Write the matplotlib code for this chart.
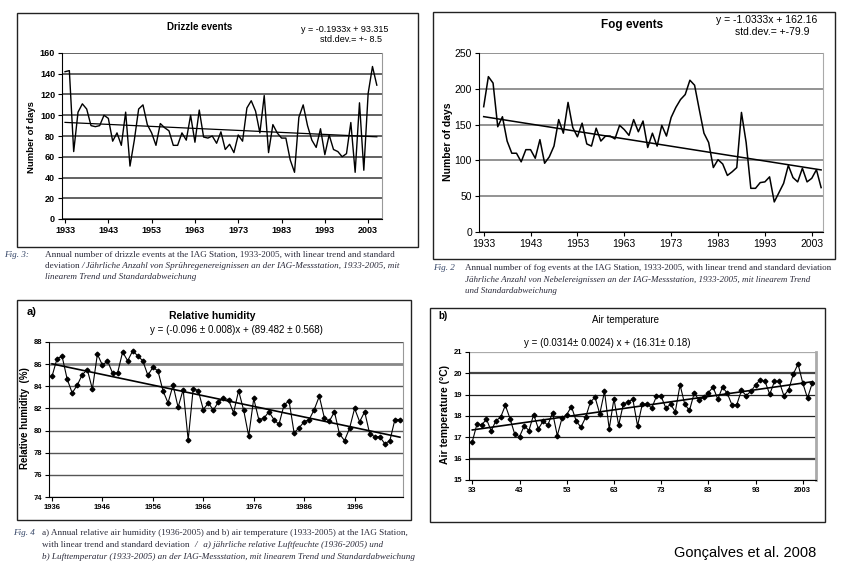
import numpy as np
import matplotlib.pyplot as plt
from matplotlib.patches import Rectangle

W, H = 841, 571

# ---- data ----
drizzle_years = np.arange(1933, 2006)
drizzle_days = [142, 143, 65, 103, 111, 106, 90, 89, 90, 100,
                97, 75, 83, 71, 103, 51, 76, 106, 110, 91,
                83, 71, 92, 88, 85, 71, 71, 83, 76, 100,
                74, 105, 79, 78, 80, 73, 84, 67, 72, 64,
                81, 75, 107, 114, 104, 83, 119, 64, 91, 83,
                78, 78, 57, 45, 98, 110, 90, 76, 69, 87,
                62, 81, 67, 65, 60, 63, 93, 45, 112, 47,
                121, 147, 129]
drizzle_fit = (-0.1933, 93.315)     # x = 1..73
drizzle_eq = ["y = -0.1933x + 93.315", "std.dev.= +- 8.5"]

fog_years = np.arange(1933, 2006)
fog_days = [175, 217, 208, 147, 161, 127, 110, 110, 98, 115,
            115, 103, 129, 96, 105, 120, 157, 138, 181, 146,
            133, 152, 123, 120, 145, 127, 134, 134, 130, 149,
            143, 135, 157, 140, 155, 118, 138, 120, 149, 134,
            160, 174, 185, 192, 212, 205, 171, 138, 125, 90,
            101, 95, 79, 84, 90, 167, 125, 61, 61, 69,
            70, 77, 42, 55, 68, 93, 76, 70, 89, 70,
            75, 87, 62]
fog_fit = (-1.0333, 162.16)         # x = 1..73
fog_eq = ["y = -1.0333x + 162.16", "std.dev.= +-79.9"]

rh_years = np.arange(1936, 2006)
rh_values = [84.9, 86.5, 86.7, 84.65, 83.4, 84.1, 85.05, 85.5, 83.75, 86.9,
             85.9, 86.3, 85.2, 85.2, 87.1, 86.3, 87.2, 86.75, 86.3, 85.0,
             85.7, 85.4, 83.6, 82.5, 84.1, 82.1, 83.7, 79.15, 83.8, 83.6,
             81.9, 82.5, 81.85, 82.6, 82.9, 82.8, 81.6, 83.6, 81.85, 79.5,
             82.9, 81.0, 81.1, 81.7, 81.0, 80.55, 82.3, 82.7, 79.8, 80.25,
             80.8, 81.0, 81.9, 83.1, 81.15, 80.85, 81.7, 79.7, 79.1, 80.2,
             82.0, 80.8, 81.7, 79.7, 79.45, 79.45, 78.8, 79.1, 81.0, 81.0]
rh_fit = (-0.096, 89.482)           # x = year - 1900
rh_eq = "y = (-0.096 \u00b1 0.008)x + (89.482 \u00b1 0.568)"

temp_years = np.arange(1933, 2006)
temp_values = [16.8, 17.63, 17.58, 17.85, 17.3, 17.78, 17.94, 18.5, 17.87, 17.14,
               17.03, 17.54, 17.32, 18.07, 17.4, 17.76, 17.57, 18.16, 17.08, 17.9,
               18.07, 18.44, 17.77, 17.47, 17.93, 18.65, 18.88, 18.1, 19.15, 17.4,
               18.8, 17.57, 18.57, 18.65, 18.79, 17.54, 18.55, 18.57, 18.37, 18.92,
               18.92, 18.37, 18.55, 18.2, 19.46, 18.55, 18.26, 19.07, 18.76, 18.88,
               19.1, 19.35, 18.79, 19.35, 19.07, 18.52, 18.52, 19.2, 18.96, 19.15,
               19.46, 19.7, 19.62, 19.02, 19.62, 19.62, 18.95, 19.23, 19.97, 20.44,
               19.54, 18.84, 19.54]
temp_fit = (0.0314, 16.31)          # x = year - 1900
temp_eq = "y = (0.0314\u00b1 0.0024) x + (16.31\u00b1 0.18)"
temp_ticklabels = ["33", "43", "53", "63", "73", "83", "93", "2003"]

plt.rcParams['font.family'] = ['Liberation Sans', 'DejaVu Sans']
SERIF = ['Liberation Serif', 'DejaVu Serif']
CAP = '#2a2a3a'
CAPSIZE = 6.6

fig = plt.figure(figsize=(W / 100, H / 100), dpi=100)
fig.patch.set_facecolor('white')
renderer = fig.canvas.get_renderer()


def px_axes(x0, y0, x1, y1):
    return fig.add_axes([x0 / W, 1 - y1 / H, (x1 - x0) / W, (y1 - y0) / H])


def px_text(x, y, s, **kw):
    kw.setdefault('va', 'center')
    return fig.text(x / W, 1 - y / H, s, **kw)


def caption_line(x, y, parts, size=CAPSIZE):
    # parts: list of (text, italic) drawn one after the other
    for s, ital in parts:
        t = px_text(x, y, s, fontsize=size, family=SERIF, color=CAP,
                    style='italic' if ital else 'normal')
        x += t.get_window_extent(renderer).width


def px_box(x0, y0, x1, y1, lw=1.0):
    fig.add_artist(Rectangle((x0 / W, 1 - y1 / H), (x1 - x0) / W, (y1 - y0) / H,
                             transform=fig.transFigure, fill=False,
                             ec='#222222', lw=lw))


def style(ax, gridcol, gridlw, right_col='#999999', tsize=6.5, tweight='bold'):
    ax.spines['top'].set_visible(False)
    ax.spines['right'].set_color(right_col)
    ax.spines['left'].set_color('black')
    ax.spines['bottom'].set_color('black')
    ax.yaxis.grid(True, color=gridcol, lw=gridlw)
    ax.set_axisbelow(True)
    ax.tick_params(direction='out', length=3, width=0.8, labelsize=tsize, pad=2)
    for lab in ax.get_xticklabels() + ax.get_yticklabels():
        lab.set_fontweight(tweight)


# ---------------- Drizzle events ----------------
px_box(17, 13, 418, 247)
ax = px_axes(62, 53, 382, 219)
idx = np.arange(1, len(drizzle_years) + 1)
ax.plot(drizzle_years, drizzle_days, color='black', lw=1.0)
ax.plot(drizzle_years, drizzle_fit[0] * idx + drizzle_fit[1], color='black', lw=0.9)
ax.set_xlim(1932.3, 2006.2)
ax.set_ylim(0, 160)
ax.set_yticks(np.arange(0, 161, 20))
ax.set_xticks(np.arange(1933, 2004, 10))
style(ax, '#555555', 1.3)
px_text(200, 27, "Drizzle events", ha='center', fontsize=7, fontweight='bold')
px_text(345, 29, drizzle_eq[0], ha='center', fontsize=6.5)
px_text(351, 40, drizzle_eq[1], ha='center', fontsize=6.5)
px_text(32, 137, "Number of days", ha='center', rotation=90, fontsize=6.8, fontweight='bold')
px_text(4, 255, "Fig. 3:", fontsize=CAPSIZE, style='italic', family=SERIF, color='#334466')
caption_line(45, 255, [("Annual number of drizzle events at the IAG Station, 1933-2005, with linear trend and standard", False)])
caption_line(45, 266, [("deviation ", False),
                       ("/ J\u00e4hrliche Anzahl von Spr\u00fchregenereignissen an der IAG-Messstation, 1933-2005, mit", True)])
caption_line(45, 277, [("linearem Trend und Standardabweichung", True)])

# ---------------- Fog events ----------------
px_box(433, 12, 835, 259)
ax = px_axes(479, 53, 823, 232)
idx = np.arange(1, len(fog_years) + 1)
ax.plot(fog_years, fog_days, color='black', lw=1.1)
ax.plot(fog_years, fog_fit[0] * idx + fog_fit[1], color='black', lw=1.1)
ax.set_xlim(1932.0, 2005.4)
ax.set_ylim(0, 250)
ax.set_yticks(np.arange(0, 251, 50))
ax.set_xticks(np.arange(1933, 2004, 10))
style(ax, '#808080', 1.2, right_col='#aaaaaa', tsize=7.5, tweight='normal')
px_text(632, 25, "Fog events", ha='center', fontsize=8.5, fontweight='bold')
px_text(767, 20, fog_eq[0], ha='center', fontsize=7.5)
px_text(772, 32, fog_eq[1], ha='center', fontsize=7.5)
px_text(448, 142, "Number of days", ha='center', rotation=90, fontsize=7.5, fontweight='bold')
px_text(433, 268, "Fig. 2", fontsize=CAPSIZE, style='italic', family=SERIF, color='#334466')
caption_line(465, 268, [("Annual number of fog events at the IAG Station, 1933-2005, with linear trend and standard deviation", False)], size=6.5)
caption_line(465, 280, [("J\u00e4hrliche Anzahl von Nebelereignissen an der IAG-Messstation, 1933-2005, mit linearem Trend", True)], size=6.5)
caption_line(465, 291, [("und Standardabweichung", True)], size=6.5)

# ---------------- Relative humidity ----------------
px_box(17, 300, 411, 520)
ax = px_axes(49, 342, 403, 497)
ax.plot(rh_years, rh_values, color='black', lw=0.8, marker='D', ms=2.4)
ax.plot(rh_years, rh_fit[0] * (rh_years - 1900) + rh_fit[1], color='black', lw=1.2)
ax.set_xlim(1935.4, 2005.6)
ax.set_ylim(74, 88)
ax.set_yticks(np.arange(74, 89, 2))
ax.set_xticks(np.arange(1936, 2006, 10))
style(ax, '#555555', 1.0, tsize=5.5)
ax.get_ygridlines()[6].set_color('#888888')
ax.get_ygridlines()[6].set_linewidth(2.0)
px_text(27, 312, "a)", fontsize=8, fontweight='bold')
px_text(212, 316, "Relative humidity", ha='center', fontsize=7.5, fontweight='bold')
px_text(236, 330, rh_eq, ha='center', fontsize=7)
px_text(25, 418, "Relative humidity  (%)", ha='center', rotation=90, fontsize=7, fontweight='bold')
px_text(13, 533, "Fig. 4", fontsize=CAPSIZE, style='italic', family=SERIF, color='#334466')
caption_line(42, 533, [("a) Annual relative air humidity (1936-2005) and b) air temperature (1933-2005) at the IAG Station,", False)])
caption_line(42, 545, [("with linear trend and standard deviation  ", False),
                       ("/   a) j\u00e4hrliche relative Luftfeuchte (1936-2005) und", True)])
caption_line(42, 557, [("b) Lufttemperatur (1933-2005) an der IAG-Messstation, mit linearem Trend und Standardabweichung", True)])

# ---------------- Air temperature ----------------
px_box(430, 308, 825, 522)
ax = px_axes(469, 352, 816, 480)
ax.plot(temp_years, temp_values, color='black', lw=0.8, marker='D', ms=2.4)
ax.plot(temp_years, temp_fit[0] * (temp_years - 1900) + temp_fit[1], color='black', lw=1.2)
ax.set_xlim(1932.3, 2005.8)
ax.set_ylim(15, 21)
ax.set_yticks(np.arange(15, 22, 1))
ax.set_xticks(np.arange(1933, 2004, 10))
ax.set_xticklabels(temp_ticklabels)
style(ax, '#222222', 0.9, right_col='#aaaaaa', tsize=5.5)
ax.spines['right'].set_linewidth(2.0)
for i in (1, 5):
    ax.get_ygridlines()[i].set_linewidth(1.6)
    ax.get_ygridlines()[i].set_color('#444444')
ax.get_ygridlines()[6].set_color('#aaaaaa')
px_text(438, 316, "b)", fontsize=7, fontweight='bold')
px_text(625, 320, "Air temperature", ha='center', fontsize=7)
px_text(607, 343, temp_eq, ha='center', fontsize=7)
px_text(445, 415, "Air temperature (\u00b0C)", ha='center', rotation=90, fontsize=7.5, fontweight='bold')

px_text(745, 553, "Gon\u00e7alves et al. 2008", ha='center', fontsize=10.5)

fig.savefig("out.png", dpi=100)
